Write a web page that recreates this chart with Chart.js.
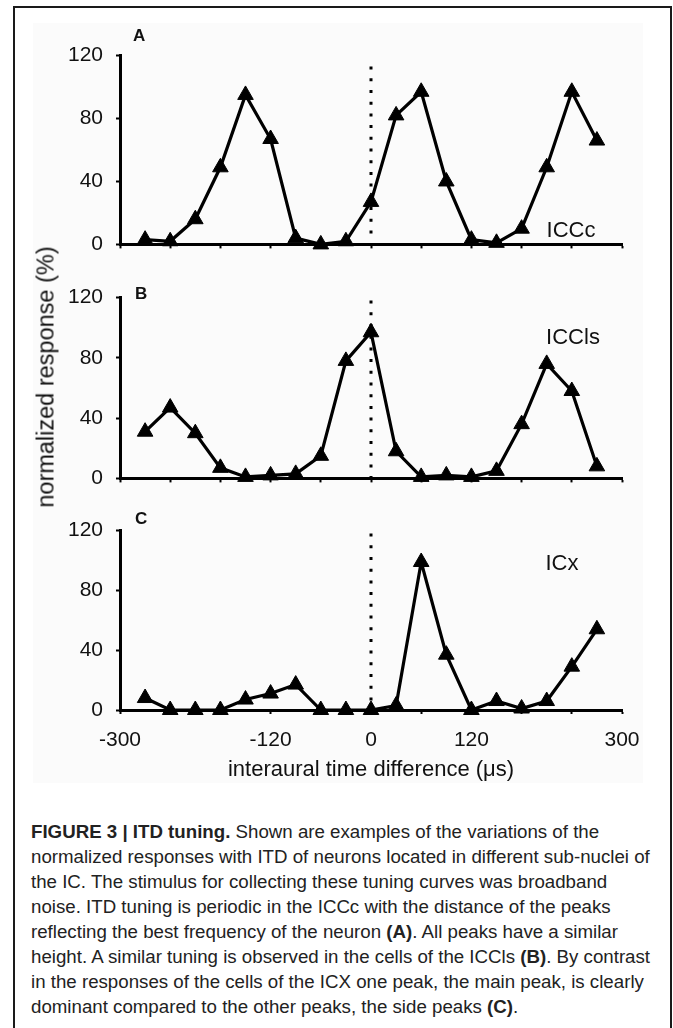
<!DOCTYPE html>
<html>
<head>
<meta charset="utf-8">
<script src="https://cdn.jsdelivr.net/npm/chart.js@4.4.1/dist/chart.umd.min.js"></script>
<style>
  body { margin: 0; background: #fff; font-family: Arial, "Liberation Sans", sans-serif; }
  #page { position: relative; width: 673px; height: 1028px; overflow: hidden; background: #fff; }
  .frame { position: absolute; left: 13px; top: 6px; width: 655px; height: 1060px; border: 2.5px solid #1a1a1a; }
  .plotbg { position: absolute; left: 33px; top: 23px; width: 610px; height: 760px; background: #fbfbfb; }
  .panel { position: absolute; left: 0; }
  .letter { position: absolute; font-weight: bold; font-size: 17px; color: #111; line-height: 1; }
  .tag { position: absolute; font-size: 22px; color: #111; line-height: 1; transform: translate(-50%, -50%); }
  .ytitle { position: absolute; left: 46px; top: 377px; font-size: 23.5px; color: #111; white-space: nowrap;
            transform: translate(-50%, -50%) rotate(-90deg); }
  .caption { position: absolute; left: 31px; top: 819px; font-size: 18.7px; line-height: 25px; color: #222; white-space: nowrap; }
</style>
</head>
<body>
<div id="page">
  <div class="plotbg"></div>
  <div class="frame"></div>

  <div class="panel" style="top:30px"><canvas id="chartA" width="673" height="240"></canvas></div>
  <div class="panel" style="top:272px"><canvas id="chartB" width="673" height="232"></canvas></div>
  <div class="panel" style="top:505px"><canvas id="chartC" width="673" height="290"></canvas></div>

  <div class="letter" style="left:133px;top:27px">A</div>
  <div class="letter" style="left:135px;top:285px">B</div>
  <div class="letter" style="left:135px;top:510px">C</div>

  <div class="tag" style="left:571px;top:230px">ICCc</div>
  <div class="tag" style="left:573px;top:337px">ICCls</div>
  <div class="tag" style="left:562px;top:563px">ICx</div>

  <div class="ytitle">normalized response (%)</div>

  <div class="caption">
    <b>FIGURE 3 | ITD tuning.</b> Shown are examples of the variations of the<br>
    normalized responses with ITD of neurons located in different sub-nuclei of<br>
    the IC. The stimulus for collecting these tuning curves was broadband<br>
    noise. ITD tuning is periodic in the ICCc with the distance of the peaks<br>
    reflecting the best frequency of the neuron <b>(A)</b>. All peaks have a similar<br>
    height. A similar tuning is observed in the cells of the ICCls <b>(B)</b>. By contrast<br>
    in the responses of the cells of the ICX one peak, the main peak, is clearly<br>
    dominant compared to the other peaks, the side peaks <b>(C)</b>.
  </div>
</div>

<script>
// interaural time differences (us)
const itd = [-270, -240, -210, -180, -150, -120, -90, -60, -30, 0, 30, 60, 90, 120, 150, 180, 210, 240, 270];

// normalized response (%)
const iccc  = [3, 2, 16, 49, 95, 67, 4, 0, 2, 27, 82, 97, 40, 3, 1, 10, 49, 97, 66];
const iccls = [31, 47, 30, 7, 1, 2, 3, 15, 78, 97, 18, 1, 2, 1, 5, 36, 76, 58, 8];
const icx   = [8, 0, 0, 0, 7, 11, 17, 0, 0, 0, 3, 99, 37, 0, 6, 1, 6, 29, 54];

// dotted line at ITD = 0 (top / bottom in % units)
const zeroLineA = [113, 3];
const zeroLineB = [118, 0];
const zeroLineC = [118, 0];

const xTickLabels = [-300, -120, 0, 120, 300];

const FONT = 'Arial, "Liberation Sans", sans-serif';

function makePanel(id, values, zeroLine, o) {
    const ctx = document.getElementById(id).getContext('2d');
    return new Chart(ctx, {
        type: 'line',
        data: {
            datasets: [
                {
                    data: itd.map((x, i) => ({ x: x, y: values[i] })),
                    borderColor: '#000',
                    backgroundColor: '#000',
                    borderWidth: 3.2,
                    pointStyle: 'triangle',
                    pointRadius: 9,
                    pointBorderWidth: 1,
                    tension: 0,
                    clip: false,
                    order: 1
                },
                {
                    data: zeroLine.map(v => ({ x: 0, y: v })),
                    borderColor: '#000',
                    borderWidth: 3,
                    borderDash: [3, 8.7],
                    borderCapStyle: 'butt',
                    pointRadius: 0,
                    clip: false,
                    order: 2
                }
            ]
        },
        options: {
            responsive: false,
            animation: false,
            devicePixelRatio: 1,
            layout: {
                autoPadding: false,
                padding: { left: 0, right: 51, top: o.padTop, bottom: o.padBottom }
            },
            plugins: { legend: { display: false }, tooltip: { enabled: false } },
            scales: {
                x: {
                    type: 'linear',
                    min: -300,
                    max: 300,
                    afterFit: s => { s.height = o.xHeight; },
                    border: { color: '#000', width: 3 },
                    grid: { drawOnChartArea: false, tickLength: 4, tickColor: '#000', tickWidth: 2 },
                    ticks: {
                        stepSize: 60,
                        autoSkip: false,
                        maxRotation: 0,
                        padding: 14,
                        color: '#111',
                        font: { family: FONT, size: 21 },
                        callback: v => (o.xLabels && xTickLabels.includes(v)) ? String(v) : ''
                    },
                    title: {
                        display: !!o.xLabels,
                        text: 'interaural time difference (\u03bcs)',
                        color: '#111',
                        font: { family: FONT, size: 22 },
                        padding: { top: 4, bottom: 4 }
                    }
                },
                y: {
                    min: 0,
                    max: 120,
                    afterFit: s => { s.width = 120; },
                    border: { color: '#000', width: 3 },
                    grid: { drawOnChartArea: false, tickLength: 4, tickColor: '#000', tickWidth: 2 },
                    ticks: {
                        stepSize: 40,
                        padding: 13,
                        color: '#111',
                        font: { family: FONT, size: 21 }
                    }
                }
            }
        }
    });
}

// panel A: area 51.7 - 250.7 (page), canvas at 30
makePanel('chartA', iccc, zeroLineA, { padTop: 21.7, padBottom: 9.3, xHeight: 10, xLabels: false });
// panel B: area 283.3 - 483.3, canvas at 272
makePanel('chartB', iccls, zeroLineB, { padTop: 11.3, padBottom: 10.7, xHeight: 10, xLabels: false });
// panel C: area 513.5 - 710, canvas at 505
makePanel('chartC', icx, zeroLineC, { padTop: 8.5, padBottom: 7.8, xHeight: 77.2, xLabels: true });
</script>
</body>
</html>
